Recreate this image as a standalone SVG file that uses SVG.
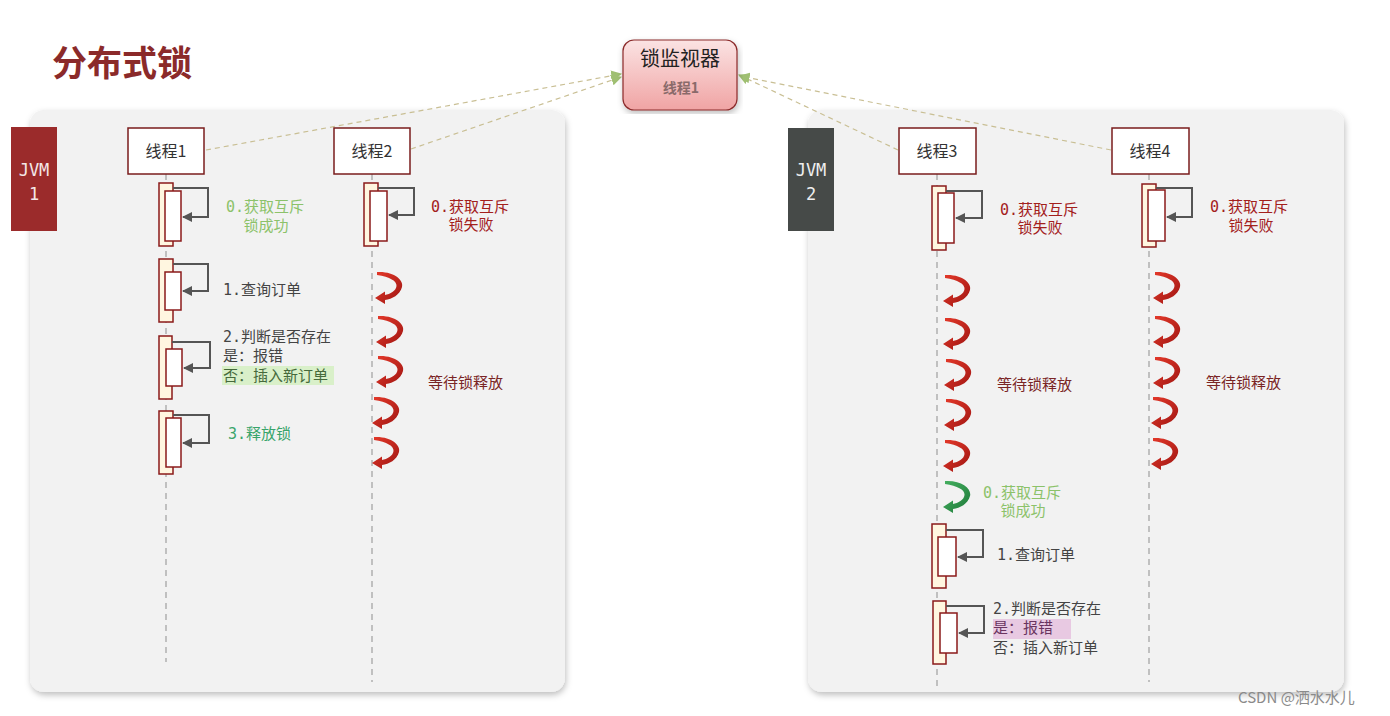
<svg xmlns="http://www.w3.org/2000/svg" width="1390" height="716" viewBox="0 0 1390 716">
<style>
.cjk{font-family:"Noto Sans CJK SC","Noto Sans",sans-serif}
.mono{font-family:"DejaVu Sans Mono","Noto Sans CJK SC",monospace}
.tbox{fill:#fff;stroke:#7a1c1c;stroke-width:1.5}
.tlab{font-size:16px;fill:#333;text-anchor:middle}
.outer{fill:#fff6e0;stroke:#8b1a1a;stroke-width:1.5}
.inner{fill:#fff;stroke:#8b1a1a;stroke-width:1.5}
.loop{fill:none;stroke:#555;stroke-width:2;marker-end:url(#ah)}
.life{stroke:#b0b0b0;stroke-width:1.5;stroke-dasharray:6 5}
.conn{stroke:#c9bf94;stroke-width:1.2;stroke-dasharray:5 4;fill:none;marker-end:url(#gh)}
.lbl{font-size:15px}
.ok{fill:#8cc26a}
.fail{fill:#a3201c}
.dark{fill:#444}
.wait{font-size:15px;fill:#7a2525}
</style>
<defs>
<marker id="ah" viewBox="0 0 10 10" refX="9" refY="5" markerWidth="5" markerHeight="5" orient="auto" markerUnits="strokeWidth">
<path d="M0,0 L10,5 L0,10 Z" fill="#555"/>
</marker>
<marker id="gh" viewBox="0 0 10 10" refX="9" refY="5" markerWidth="9" markerHeight="9" orient="auto" markerUnits="strokeWidth">
<path d="M0,0 L10,5 L0,10 Z" fill="#9fbf72"/>
</marker>
<linearGradient id="mon" x1="0" y1="0" x2="0" y2="1">
<stop offset="0" stop-color="#fbe3e3"/>
<stop offset="1" stop-color="#f0a4a4"/>
</linearGradient>
<linearGradient id="red" x1="0" y1="0" x2="1" y2="1">
<stop offset="0" stop-color="#e5392a"/>
<stop offset="1" stop-color="#9e1512"/>
</linearGradient>
<linearGradient id="grn" x1="0" y1="0" x2="1" y2="1">
<stop offset="0" stop-color="#45b060"/>
<stop offset="1" stop-color="#1f7a3a"/>
</linearGradient>
<filter id="sh" x="-5%" y="-5%" width="110%" height="110%">
<feDropShadow dx="1" dy="3" stdDeviation="3" flood-color="#000" flood-opacity="0.25"/>
</filter>
<path id="hook" d="M0,-1 C17,-2 27,7 25,14 C23,22 15,26 8,27 L8,31 L-2,25 L8,18.5 L8,22 C13,21 19,18 19.5,13 C20,8 13,4 0,2 Z"/>
</defs>

<rect width="1390" height="716" fill="#fff"/>

<!-- panels -->
<rect x="30" y="110" width="535" height="582" rx="14" fill="#f2f2f2" filter="url(#sh)"/>
<rect x="808" y="110" width="536" height="582" rx="14" fill="#f2f2f2" filter="url(#sh)"/>

<text x="52" y="76" class="cjk" font-size="35" font-weight="bold" fill="#8b2a2a">分布式锁</text>

<!-- JVM boxes -->
<g id="jvm1">
<rect x="11" y="127" width="46" height="104" fill="#9b2b2b"/>
<text x="34" y="176" class="mono" font-size="17" fill="#f3e6e6" text-anchor="middle">JVM</text>
<text x="34" y="200" class="mono" font-size="17" fill="#f3e6e6" text-anchor="middle">1</text>
</g>
<g id="jvm2">
<rect x="788" y="128" width="46" height="103" fill="#464a48"/>
<text x="811" y="176" class="mono" font-size="17" fill="#eee" text-anchor="middle">JVM</text>
<text x="811" y="200" class="mono" font-size="17" fill="#eee" text-anchor="middle">2</text>
</g>

<!-- connectors -->
<g id="connectors">
<path class="conn" d="M206,150 L621,74"/>
<path class="conn" d="M411,149 L621,77"/>
<path class="conn" d="M898,150 L739,75"/>
<path class="conn" d="M1111,150 L740,76"/>
</g>

<!-- lock monitor -->
<g id="monitor">
<rect x="623" y="40" width="114" height="70" rx="11" fill="url(#mon)" stroke="#8b2a2a" stroke-width="1.2" filter="url(#sh)"/>
<text x="680" y="66" class="cjk" font-size="20" fill="#222" text-anchor="middle">锁监视器</text>
<text x="681" y="93" class="cjk" font-size="14" font-weight="bold" fill="#8a6a6a" text-anchor="middle">线程1</text>
</g>

<!-- thread 1 -->
<g id="thread1">
<line class="life" x1="166" y1="174" x2="166" y2="662"/>
<rect class="tbox" x="128" y="128" width="76" height="46"/>
<text class="cjk tlab" x="166" y="157">线程1</text>
<rect class="outer" x="159" y="183" width="14" height="63"/>
<rect class="inner" x="165" y="191" width="16" height="50"/>
<path class="loop" d="M173,188 H208 V217 H183"/>
<text class="mono lbl ok" text-anchor="middle"><tspan x="265" y="212">0.获取互斥</tspan><tspan x="266" y="231">锁成功</tspan></text>
<rect class="outer" x="159" y="259" width="14" height="63"/>
<rect class="inner" x="165" y="272" width="16" height="38"/>
<path class="loop" d="M173,264 H208 V291 H183"/>
<text class="mono lbl dark" x="223" y="295">1.查询订单</text>
<rect class="outer" x="159" y="336" width="13" height="63"/>
<rect class="inner" x="166" y="349" width="16" height="37"/>
<path class="loop" d="M172,342 H210 V368 H184"/>
<rect x="222" y="366" width="112" height="19" fill="#d9f0c9"/>
<text class="mono lbl dark"><tspan x="223" y="342">2.判断是否存在</tspan><tspan x="223" y="361">是：报错</tspan><tspan x="223" y="381" fill="#466a3c">否：插入新订单</tspan></text>
<rect class="outer" x="159" y="411" width="14" height="63"/>
<rect class="inner" x="166" y="418" width="15" height="49"/>
<path class="loop" d="M173,415 H209 V443 H183"/>
<text class="mono lbl" x="228" y="439" fill="#38a46a">3.释放锁</text>
</g>

<!-- thread 2 -->
<g id="thread2">
<line class="life" x1="372" y1="174" x2="372" y2="682"/>
<rect class="tbox" x="334" y="128" width="76" height="46"/>
<text class="cjk tlab" x="372" y="157">线程2</text>
<rect class="outer" x="364" y="183" width="14" height="63"/>
<rect class="inner" x="370" y="191" width="17" height="50"/>
<path class="loop" d="M378,188 H414 V215 H389"/>
<text class="mono lbl fail" text-anchor="middle"><tspan x="470" y="212">0.获取互斥</tspan><tspan x="471" y="230">锁失败</tspan></text>
<use href="#hook" x="377" y="273" fill="url(#red)"/>
<use href="#hook" x="378" y="317" fill="url(#red)"/>
<use href="#hook" x="378" y="357" fill="url(#red)"/>
<use href="#hook" x="374" y="398" fill="url(#red)"/>
<use href="#hook" x="374" y="438" fill="url(#red)"/>
<text class="cjk wait" x="428" y="388">等待锁释放</text>
</g>

<!-- thread 3 -->
<g id="thread3">
<line class="life" x1="937" y1="174" x2="937" y2="690"/>
<rect class="tbox" x="899" y="128" width="77" height="46"/>
<text class="cjk tlab" x="937" y="157">线程3</text>
<rect class="outer" x="932" y="186" width="14" height="64"/>
<rect class="inner" x="938" y="193" width="16" height="50"/>
<path class="loop" d="M946,191 H982 V218 H956"/>
<text class="mono lbl fail" text-anchor="middle"><tspan x="1039" y="215">0.获取互斥</tspan><tspan x="1040" y="233">锁失败</tspan></text>
<use href="#hook" x="945" y="276" fill="url(#red)"/>
<use href="#hook" x="945" y="319" fill="url(#red)"/>
<use href="#hook" x="946" y="360" fill="url(#red)"/>
<use href="#hook" x="946" y="400" fill="url(#red)"/>
<use href="#hook" x="945" y="441" fill="url(#red)"/>
<text class="cjk wait" x="997" y="390">等待锁释放</text>
<use href="#hook" x="945" y="482" fill="url(#grn)"/>
<text class="mono lbl ok" text-anchor="middle"><tspan x="1022" y="498">0.获取互斥</tspan><tspan x="1023" y="516">锁成功</tspan></text>
<rect class="outer" x="932" y="524" width="14" height="64"/>
<rect class="inner" x="938" y="537" width="18" height="39"/>
<path class="loop" d="M946,530 H983 V557 H958"/>
<text class="mono lbl dark" x="997" y="560">1.查询订单</text>
<rect class="outer" x="933" y="601" width="13" height="63"/>
<rect class="inner" x="940" y="613" width="17" height="40"/>
<path class="loop" d="M946,606 H984 V633 H959"/>
<rect x="993" y="619" width="78" height="20" fill="#e8c9e2"/>
<text class="mono lbl dark"><tspan x="993" y="614">2.判断是否存在</tspan><tspan x="993" y="633" fill="#6a3560">是：报错</tspan><tspan x="993" y="653">否：插入新订单</tspan></text>
</g>

<!-- thread 4 -->
<g id="thread4">
<line class="life" x1="1149" y1="174" x2="1149" y2="682"/>
<rect class="tbox" x="1112" y="128" width="77" height="46"/>
<text class="cjk tlab" x="1150" y="157">线程4</text>
<rect class="outer" x="1142" y="184" width="14" height="63"/>
<rect class="inner" x="1148" y="190" width="17" height="51"/>
<path class="loop" d="M1156,188 H1192 V217 H1167"/>
<text class="mono lbl fail" text-anchor="middle"><tspan x="1249" y="212">0.获取互斥</tspan><tspan x="1251" y="231">锁失败</tspan></text>
<use href="#hook" x="1155" y="273" fill="url(#red)"/>
<use href="#hook" x="1155" y="317" fill="url(#red)"/>
<use href="#hook" x="1155" y="358" fill="url(#red)"/>
<use href="#hook" x="1153" y="398" fill="url(#red)"/>
<use href="#hook" x="1153" y="439" fill="url(#red)"/>
<text class="cjk wait" x="1206" y="388">等待锁释放</text>
</g>

<text x="1238" y="703" class="cjk" font-size="15" fill="#8a8a8a">CSDN @洒水水儿</text>
</svg>
